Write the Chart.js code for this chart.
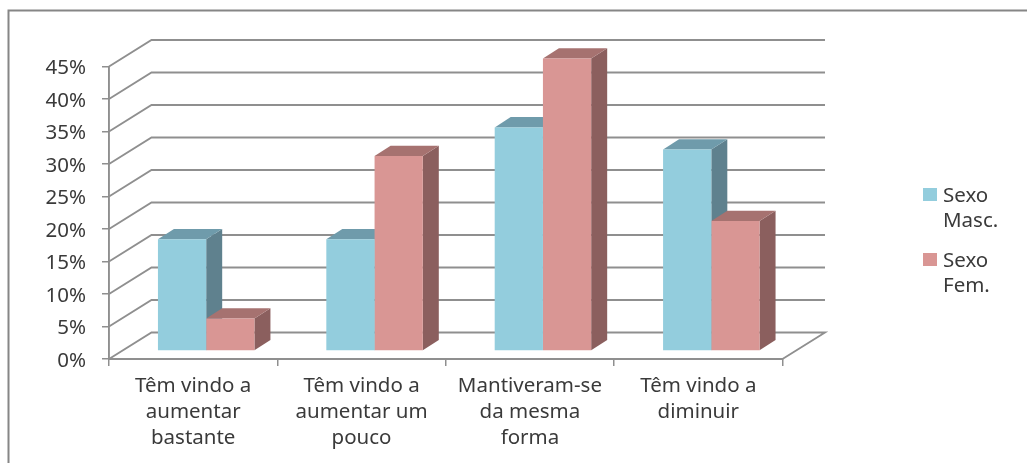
<!DOCTYPE html>
<html lang="pt">
<head>
<meta charset="utf-8">
<style>
html,body{margin:0;padding:0;background:#fff;overflow:hidden}
#wrap{position:relative;width:1027px;height:463px}
canvas{display:block}
</style>
<script src="https://cdn.jsdelivr.net/npm/chart.js@4/dist/chart.umd.min.js"></script>
</head>
<body>
<div id="wrap"><canvas id="c" width="1027" height="463"></canvas></div>
<script>
const categories = [
  ["Têm vindo a", "aumentar", "bastante"],
  ["Têm vindo a", "aumentar um", "pouco"],
  ["Mantiveram-se", "da mesma", "forma"],
  ["Têm vindo a", "diminuir"]
];
const sexoMasc = [17.2, 17.2, 34.4, 31];
const sexoFem = [5, 30, 45, 20];
const seriesNames = ["Sexo Masc.", "Sexo Fem."];

const FONT = '"Noto Sans", sans-serif';
const FONT_SIZE = 20.5;
const TEXT = "#3a3a3a";
const GRID = "#8f8f8f";
const DEPTH_WALL = {x: 42.5, y: -26.5};
const DEPTH_BAR = {x: 16, y: -10.3};
const BAR_SHIFT = {x: 13, y: -8};
const shades = [
  {front: "#93CDDD", top: "#6F9BAB", side: "#5F818E"},
  {front: "#D99694", top: "#A67270", side: "#8B5F5E"}
];

function poly(ctx, pts, fill) {
  ctx.beginPath();
  pts.forEach((p, i) => i ? ctx.lineTo(p[0], p[1]) : ctx.moveTo(p[0], p[1]));
  ctx.closePath();
  ctx.fillStyle = fill;
  ctx.fill();
}

const frame3d = {
  id: "frame3d",
  beforeDraw(chart) {
    const {ctx, width, height} = chart;
    ctx.save();
    ctx.strokeStyle = "#868686";
    ctx.lineWidth = 2;
    ctx.beginPath();
    ctx.moveTo(8.5, height);
    ctx.lineTo(8.5, 10.5);
    ctx.lineTo(width, 10.5);
    ctx.stroke();
    ctx.restore();
  },
  beforeDatasetsDraw(chart) {
    const {ctx, scales: {x, y}} = chart;
    ctx.save();
    ctx.strokeStyle = GRID;
    ctx.lineWidth = 1.9;
    y.ticks.forEach((t, i) => {
      const py = y.getPixelForTick(i);
      ctx.beginPath();
      ctx.moveTo(x.left, py);
      ctx.lineTo(x.left + DEPTH_WALL.x, py + DEPTH_WALL.y);
      ctx.lineTo(x.right + DEPTH_WALL.x, py + DEPTH_WALL.y);
      if (t.value === 0) {
        ctx.lineTo(x.right, py);
      }
      ctx.stroke();
    });
    ctx.translate(BAR_SHIFT.x, BAR_SHIFT.y);
    const dx = DEPTH_BAR.x, dy = DEPTH_BAR.y;
    shades.forEach((s, k) => {
      chart.getDatasetMeta(k).data.forEach(b => {
        const l = b.x - b.width / 2, r = b.x + b.width / 2;
        poly(ctx, [[r, b.y], [r + dx, b.y + dy], [r + dx, b.base + dy], [r, b.base]], s.side);
        poly(ctx, [[l, b.y], [l + dx, b.y + dy], [r + dx, b.y + dy], [r, b.y]], s.top);
      });
    });
    ctx.restore();
  },
  beforeDatasetDraw(chart) {
    chart.ctx.save();
    chart.ctx.translate(BAR_SHIFT.x, BAR_SHIFT.y);
  },
  afterDatasetDraw(chart) {
    chart.ctx.restore();
  },
  afterDraw(chart) {
    const {ctx} = chart;
    ctx.save();
    ctx.font = FONT_SIZE + "px " + FONT;
    ctx.textBaseline = "middle";
    const tops = [188, 253];
    seriesNames.forEach((name, i) => {
      ctx.fillStyle = shades[i].front;
      ctx.fillRect(923, tops[i], 14, 13);
      ctx.fillStyle = TEXT;
      name.split(" ").forEach((w, j) => ctx.fillText(w, 943, tops[i] + 8 + j * 25.5));
    });
    ctx.restore();
  }
};

new Chart(document.getElementById("c"), {
  type: "bar",
  data: {
    labels: categories,
    datasets: [
      {label: seriesNames[0], data: sexoMasc, backgroundColor: shades[0].front, clip: false},
      {label: seriesNames[1], data: sexoFem, backgroundColor: shades[1].front, clip: false}
    ]
  },
  options: {
    responsive: false,
    animation: false,
    events: [],
    layout: {padding: {top: 66.5, right: 244.5, left: 0, bottom: 0}},
    categoryPercentage: 0.573,
    barPercentage: 1,
    plugins: {legend: {display: false}, tooltip: {enabled: false}, title: {display: false}},
    scales: {
      x: {
        grid: {drawOnChartArea: false, color: GRID, lineWidth: 1.5, tickLength: 7},
        border: {color: GRID, width: 1.9},
        ticks: {
          autoSkip: false, maxRotation: 0, minRotation: 0, padding: 7, color: TEXT,
          font: {family: FONT, size: FONT_SIZE, lineHeight: 26 / FONT_SIZE}
        },
        afterFit(s) { s.height = 104; }
      },
      y: {
        min: 0, max: 45,
        grid: {drawOnChartArea: false, color: GRID, lineWidth: 1.5, tickLength: 7},
        border: {color: GRID, width: 1.9},
        ticks: {
          stepSize: 5, padding: 16, color: TEXT, labelOffset: 2,
          font: {family: FONT, size: FONT_SIZE},
          callback: v => v + "%"
        },
        afterFit(s) { s.width = 109; }
      }
    }
  },
  plugins: [frame3d]
});
</script>
</body>
</html>
